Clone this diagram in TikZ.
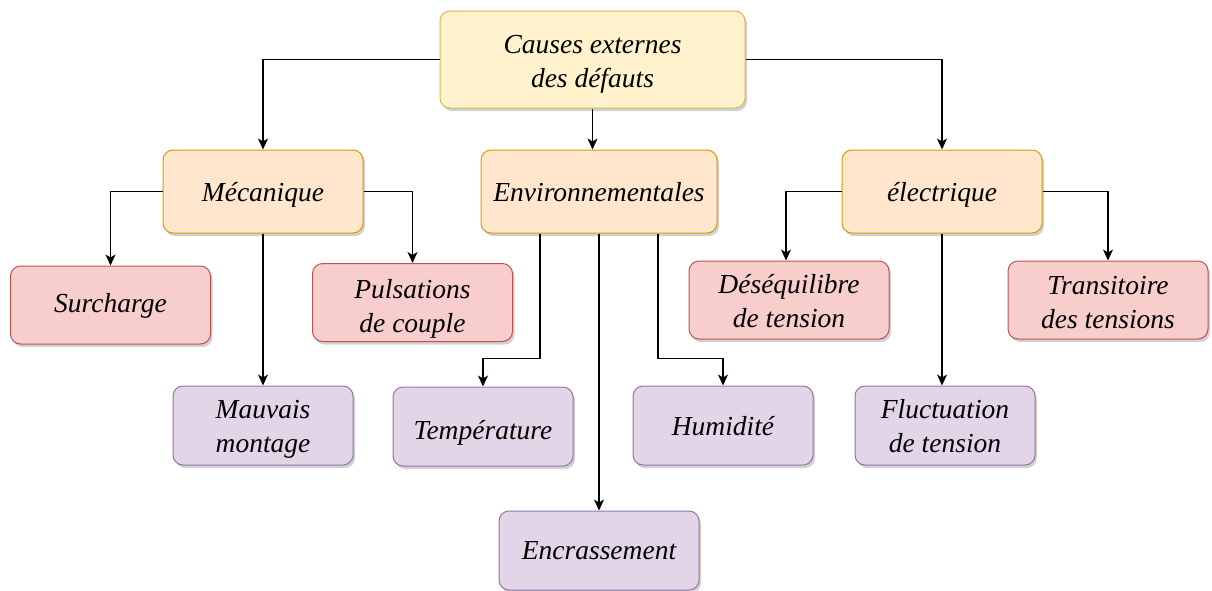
\documentclass[tikz,border=0pt]{standalone}
\usepackage{fontspec}
\setmainfont{Liberation Serif}
\newfontfamily\tnri{Liberation Serif Italic}
\usetikzlibrary{arrows.meta,shadows}
\definecolor{ylwfill}{HTML}{FFF2CC}\definecolor{ylwdraw}{HTML}{D6B656}
\definecolor{orgfill}{HTML}{FFE6CC}\definecolor{orgdraw}{HTML}{D79B00}
\definecolor{redfill}{HTML}{F8CECC}\definecolor{reddraw}{HTML}{B85450}
\definecolor{purfill}{HTML}{E1D5E7}\definecolor{purdraw}{HTML}{9673A6}
\tikzset{
  box/.style={rounded corners=10pt, line width=1pt, align=center, inner sep=0pt,
    font=\fontsize{27.5}{34}\selectfont\tnri,
    drop shadow={shadow xshift=2pt, shadow yshift=-3pt, opacity=0.18, fill=black}},
  rootbox/.style={box, fill=ylwfill, draw=ylwdraw, minimum width=305pt, minimum height=97pt},
  catbox/.style={box, fill=orgfill, draw=orgdraw, minimum height=83pt},
  redbox/.style={box, fill=redfill, draw=reddraw, minimum width=200pt, minimum height=78pt},
  purbox/.style={box, fill=purfill, draw=purdraw, minimum width=180pt, minimum height=79pt},
  arr/.style={line width=1.3pt, -{Stealth[length=11pt,width=10pt,inset=3pt]}}
}
\newcommand{\lo}[2][-4pt]{\raisebox{#1}[\height][\depth]{\begin{tabular}{@{}c@{}}#2\end{tabular}}}
\begin{document}
\begin{tikzpicture}[x=1pt,y=1pt]
\useasboundingbox (0,0) rectangle (1212,-590);
\node[rootbox] (root) at (592.5,-59.5) {\lo{Causes externes\\des défauts}};
\node[catbox, minimum width=200pt] (meca) at (263,-191.5) {\lo[-3pt]{Mécanique}};
\node[catbox, minimum width=236pt] (env) at (599,-191.5) {\lo[-3pt]{Environnementales}};
\node[catbox, minimum width=200pt] (elec) at (942,-191.5) {\lo[-3pt]{électrique}};
\node[redbox] (surch) at (110.5,-305) {\lo[-1pt]{Surcharge}};
\node[redbox] (puls) at (412.5,-302.5) {\lo[-6pt]{Pulsations\\de couple}};
\node[redbox] (deseq) at (789,-300) {\lo{Déséquilibre\\de tension}};
\node[redbox] (trans) at (1108,-300) {\lo[-5pt]{Transitoire\\des tensions}};
\node[purbox] (mauv) at (263,-425.5) {\lo[-3pt]{Mauvais\\montage}};
\node[purbox] (temp) at (483,-426.5) {\lo[-6pt]{Température}};
\node[purbox] (humi) at (723,-425.5) {\lo[-3pt]{Humidité}};
\node[purbox] (fluct) at (945,-425.5) {\lo[-3pt]{Fluctuation\\de tension}};
\node[purbox, minimum width=200pt] (encr) at (599,-550.5) {\lo[-2pt]{Encrassement}};
\draw[arr] (root.west) -| (meca.north);
\draw[arr] (root.south) -- (root.south |- env.north);
\draw[arr] (root.east) -| (elec.north);
\draw[arr] (meca.west) -| (surch.north);
\draw[arr] (meca.east) -| (puls.north);
\draw[arr] (meca.south) -- (meca.south |- mauv.north);
\draw[arr] ([xshift=-59pt]env.south) -- ++(0,-125) -| (temp.north);
\draw[arr] (env.south) -- (env.south |- encr.north);
\draw[arr] ([xshift=59pt]env.south) -- ++(0,-125) -| (humi.north);
\draw[arr] (elec.west) -| ([xshift=-3pt]deseq.north);
\draw[arr] (elec.east) -| (trans.north);
\draw[arr] (elec.south) -- (elec.south |- fluct.north);
\end{tikzpicture}
\end{document}
